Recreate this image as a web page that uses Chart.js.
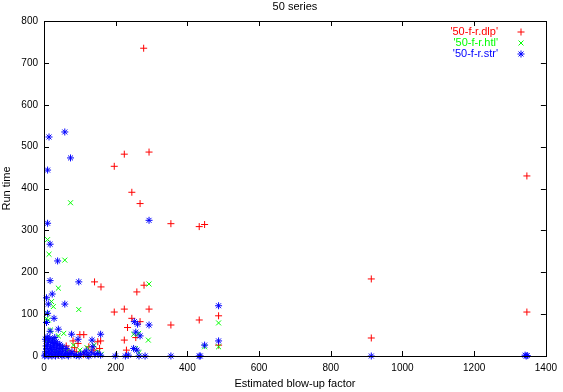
<!DOCTYPE html>
<html>
<head>
<meta charset="utf-8">
<script src="https://cdn.jsdelivr.net/npm/chart.js@4/dist/chart.umd.min.js"></script>
<style>
  body { margin: 0; background: #fff; }
  canvas { display: block; }
</style>
</head>
<body>
<canvas id="chart" width="563" height="392"></canvas>
<script>
// Series data: [blow-up factor, run time]
const dlpPoints = [
    [278, 735], [196, 453], [224, 482], [293, 487], [245, 391], [268, 364], [354, 316], [433, 309],
    [448, 314], [1347, 430], [913, 184], [913, 43], [1347, 105], [141, 177], [159, 165], [279, 169],
    [259, 153], [196, 105], [224, 112], [293, 112], [245, 90], [268, 82], [354, 74], [233, 68],
    [433, 86], [487, 96], [487, 26], [100, 51], [111, 51], [81, 36], [158, 36], [224, 38],
    [256, 44], [230, 14], [155, 18], [139, 14], [44, 18], [53, 18], [67, 14], [90, 10],
    [95, 30], [150, 34], [62, 24], [30, 10], [20, 4], [75, 6], [110, 4], [125, 22], [40, 2], [85, 20]
];
const htlPoints = [
    [74, 366], [10, 278], [14, 243], [58, 229], [40, 162], [293, 172], [21, 130], [26, 118],
    [97, 111], [12, 86], [7, 89], [55, 54], [40, 48], [250, 52], [264, 54], [291, 38],
    [487, 79], [487, 22], [448, 22], [8, 102], [18, 62], [28, 40], [12, 30], [48, 20],
    [62, 10], [82, 26], [100, 14], [120, 20], [140, 26], [150, 10], [255, 18], [265, 8],
    [6, 5], [160, 4], [35, 8]
];
const strPoints = [
    [14, 523], [58, 535], [74, 473], [10, 444], [10, 317], [293, 324], [17, 267], [38, 227],
    [17, 180], [97, 177], [23, 148], [7, 139], [58, 124], [12, 124], [10, 102], [28, 90],
    [7, 80], [40, 64], [17, 59], [487, 120], [448, 26], [487, 36], [433, 0], [913, 0],
    [1345, 0], [1342, 2], [1348, 1], [252, 82], [261, 76], [293, 74], [77, 52], [95, 40],
    [158, 52], [134, 38], [256, 57], [268, 48], [250, 18], [259, 14], [199, 0], [227, 0],
    [235, 2], [265, 0], [282, 0], [354, 0], [436, 0], [158, 2],
    [3, 2], [5, 10], [8, 18], [10, 28], [12, 36], [15, 6], [18, 22], [20, 32], [22, 12], [25, 4],
    [28, 20], [30, 30], [33, 8], [35, 16], [38, 26], [40, 3], [42, 10], [45, 18], [48, 5], [52, 12],
    [56, 2], [60, 7], [66, 3], [72, 6], [78, 10], [84, 3], [90, 1], [102, 4], [112, 7], [122, 2],
    [132, 9], [142, 3], [150, 6], [4, 40], [9, 46], [14, 12], [16, 42], [24, 38], [27, 26], [34, 34],
    [44, 28], [52, 22], [2, 0], [12, 0], [22, 0], [32, 0], [50, 0], [68, 0], [98, 0], [125, 0],
    [6, 24], [20, 16], [30, 44], [62, 18], [118, 12], [136, 22]
];
const seriesLabels = ["'50-f-r.dlp'", "'50-f-r.htl'", "'50-f-r.str'"];
const xTicks = [0, 200, 400, 600, 800, 1000, 1200, 1400];
const yTicks = [0, 100, 200, 300, 400, 500, 600, 700, 800];

const FONT = 'Liberation Sans, Arial, Helvetica, sans-serif';
const toXY = pts => pts.map(p => ({ x: p[0], y: p[1] }));

function makeSet(label, pts, color, style, order) {
    return {
        label: label,
        data: toXY(pts),
        pointStyle: style,
        radius: 3.5,
        borderColor: color,
        backgroundColor: color,
        borderWidth: 1,
        order: order,
        clip: false
    };
}

// gnuplot style box, inner ticks, title and legend
const gnuplotFrame = {
    id: 'gnuplotFrame',
    afterDraw(chart) {
        const { ctx, chartArea: a, scales: { x, y } } = chart;
        ctx.save();
        ctx.strokeStyle = '#000';
        ctx.lineWidth = 1;
        ctx.strokeRect(Math.round(a.left) + 0.5, Math.round(a.top) + 0.5,
            Math.round(a.right - a.left), Math.round(a.bottom - a.top));
        ctx.beginPath();
        xTicks.forEach(v => {
            const px = Math.round(x.getPixelForValue(v)) + 0.5;
            ctx.moveTo(px, a.bottom); ctx.lineTo(px, a.bottom - 5);
            ctx.moveTo(px, a.top); ctx.lineTo(px, a.top + 5);
        });
        yTicks.forEach(v => {
            const py = Math.round(y.getPixelForValue(v)) + 0.5;
            ctx.moveTo(a.left, py); ctx.lineTo(a.left + 5, py);
            ctx.moveTo(a.right, py); ctx.lineTo(a.right - 5, py);
        });
        ctx.stroke();

        ctx.fillStyle = '#000';
        ctx.font = '11px ' + FONT;
        ctx.textAlign = 'center';
        ctx.textBaseline = 'middle';
        ctx.fillText('50 series', (a.left + a.right) / 2, 7);

        // legend: coloured label, then the marker
        chart.data.datasets.forEach((ds, i) => {
            const ly = 32 + i * 11;
            ctx.fillStyle = ds.borderColor;
            ctx.strokeStyle = ds.borderColor;
            ctx.lineWidth = 1;
            ctx.textAlign = 'right';
            ctx.fillText(ds.label, 498, ly);
            Chart.helpers.drawPoint(ctx, {
                pointStyle: ds.pointStyle, radius: ds.radius, rotation: 0, borderWidth: 1
            }, 521, ly);
        });
        ctx.restore();
    }
};

new Chart(document.getElementById('chart'), {
    type: 'scatter',
    data: {
        datasets: [
            makeSet(seriesLabels[0], dlpPoints, '#ff0000', 'cross', 3),
            makeSet(seriesLabels[1], htlPoints, '#00ff00', 'crossRot', 2),
            makeSet(seriesLabels[2], strPoints, '#0000ff', 'star', 1)
        ]
    },
    options: {
        responsive: false,
        animation: false,
        events: [],
        layout: { padding: { top: 21, right: 12, left: 0, bottom: 0 } },
        plugins: {
            legend: { display: false },
            tooltip: { enabled: false },
            title: { display: false }
        },
        scales: {
            x: {
                type: 'linear',
                min: 0, max: 1400,
                afterBuildTicks: s => { s.ticks = xTicks.map(v => ({ value: v })); },
                afterFit: s => { s.height = 36; },
                grid: { display: false, drawTicks: false },
                border: { display: false },
                ticks: { color: '#000', font: { family: FONT, size: 10 }, padding: 6, maxRotation: 0,
                    callback: v => String(v) },
                title: { display: true, text: 'Estimated blow-up factor', color: '#000',
                    font: { family: FONT, size: 11 }, padding: { top: 0, bottom: 1 } }
            },
            y: {
                type: 'linear',
                min: 0, max: 800,
                afterBuildTicks: s => { s.ticks = yTicks.map(v => ({ value: v })); },
                afterFit: s => { s.width = 44; },
                grid: { display: false, drawTicks: false },
                border: { display: false },
                ticks: { color: '#000', font: { family: FONT, size: 10 }, padding: 6,
                    callback: v => String(v) },
                title: { display: true, text: 'Run time', color: '#000',
                    font: { family: FONT, size: 11 }, padding: { top: 0, bottom: 0 } }
            }
        }
    },
    plugins: [gnuplotFrame]
});
</script>
</body>
</html>
